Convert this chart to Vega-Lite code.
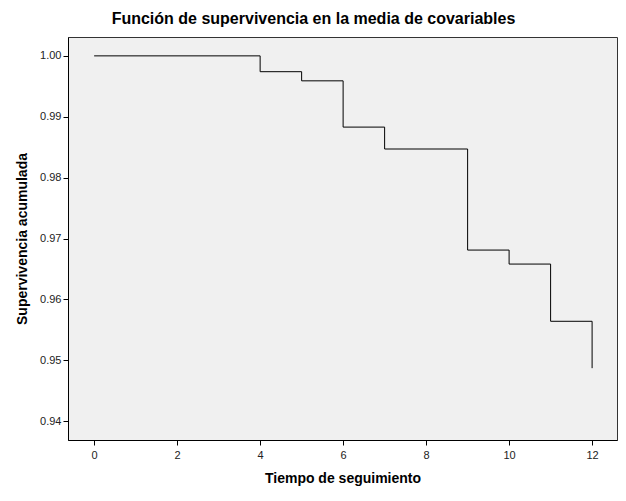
{
  "$schema": "https://vega.github.io/schema/vega-lite/v6.json",
  "width": 549,
  "height": 403,
  "autosize": {"type": "none"},
  "padding": {"left": 68, "top": 37, "right": 9, "bottom": 61},
  "background": "white",
  "title": {
    "text": "Función de supervivencia en la media de covariables",
    "anchor": "middle",
    "frame": "group",
    "dx": -29,
    "offset": 10,
    "font": "Liberation Sans",
    "fontSize": 16,
    "fontWeight": "bold",
    "color": "#000000"
  },
  "config": {
    "view": {"fill": "#F0F0F0", "stroke": "#333333", "strokeWidth": 1},
    "axis": {
      "labelFont": "Liberation Sans",
      "labelFontSize": 11,
      "labelColor": "#222222",
      "titleFont": "Liberation Sans",
      "titleFontSize": 14,
      "titleFontWeight": "bold",
      "titleColor": "#000000",
      "domainColor": "#000000",
      "tickColor": "#000000",
      "tickSize": 5,
      "grid": false
    }
  },
  "data": {
    "values": [
      {"t": 0, "s": 1.0},
      {"t": 4, "s": 0.9974},
      {"t": 5, "s": 0.9959},
      {"t": 6, "s": 0.9883},
      {"t": 7, "s": 0.9847},
      {"t": 9, "s": 0.9681},
      {"t": 10, "s": 0.9658},
      {"t": 11, "s": 0.9564},
      {"t": 12, "s": 0.9487}
    ]
  },
  "mark": {"type": "line", "interpolate": "step-after", "color": "#000000", "strokeWidth": 1},
  "encoding": {
    "x": {
      "field": "t",
      "type": "quantitative",
      "title": "Tiempo de seguimiento",
      "scale": {"domain": [-0.63, 12.6], "nice": false, "zero": false},
      "axis": {"values": [0, 2, 4, 6, 8, 10, 12], "labelPadding": 4, "titlePadding": 11}
    },
    "y": {
      "field": "s",
      "type": "quantitative",
      "title": "Supervivencia acumulada",
      "scale": {"domain": [0.9369, 1.0031], "nice": false, "zero": false},
      "axis": {"values": [0.94, 0.95, 0.96, 0.97, 0.98, 0.99, 1.0], "format": ".2f", "labelPadding": 2, "titlePadding": 10}
    }
  }
}
